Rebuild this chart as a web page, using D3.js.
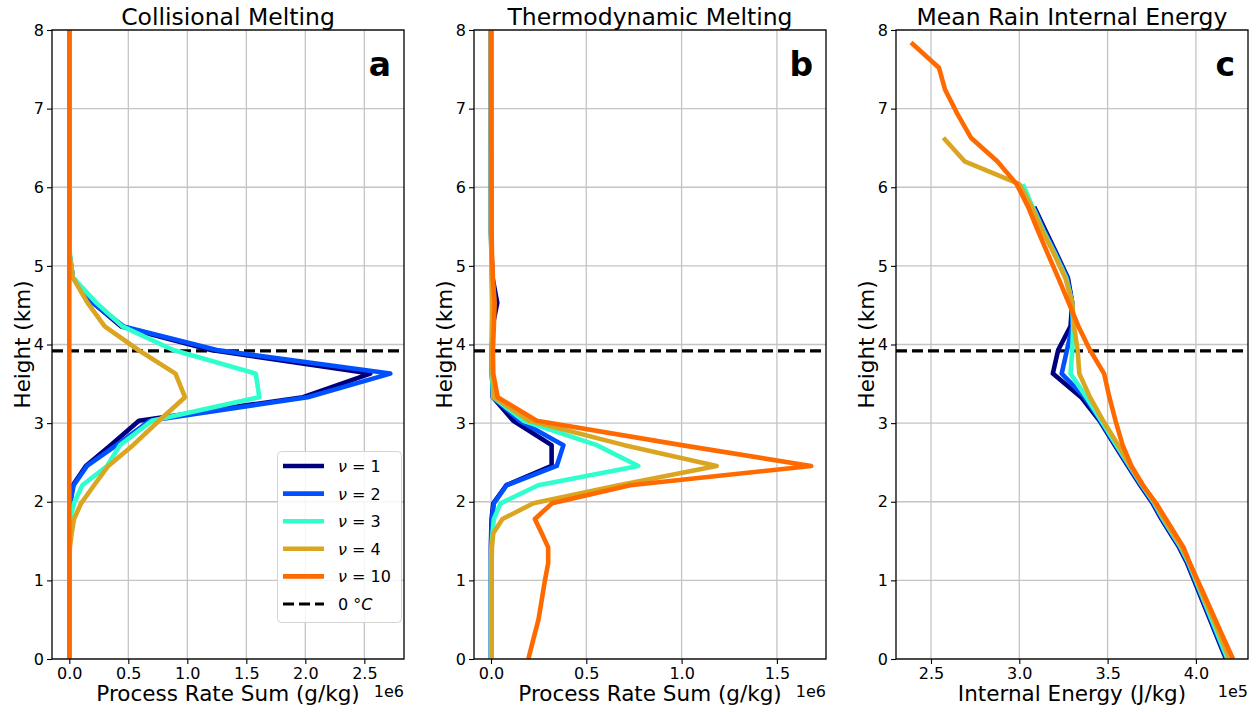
<!DOCTYPE html>
<html>
<head>
<meta charset="utf-8">
<script src="https://cdn.jsdelivr.net/npm/d3@7"></script>
<style>
  body { margin: 0; background: #fff; }
  text { font-family: "DejaVu Sans", sans-serif; fill: #000; }
</style>
</head>
<body>
<script>
// model level heights (km), bottom to top
const levels = [0, 0.25, 0.5, 0.75, 1.0, 1.22, 1.42, 1.6, 1.78, 1.98, 2.21, 2.455, 2.72, 3.03, 3.33,
                3.63, 3.93, 4.23, 4.53, 4.85, 5.16, 5.45, 5.75, 6.04, 6.33, 6.63, 6.93, 7.24, 7.52, 7.84, 8.15];

const nuLabels = ["1", "2", "3", "4", "10"];
const nuColors = ["#00007f", "#0050ff", "#2effcc", "#daa520", "#ff6a00"];

// a: collisional melting (x 1e6)
const collNu1  = [0,0,0,0,0,0,0,0,0.002,0.005,0.03,0.14,0.35,0.59,1.98,2.55,1.2,0.44,0.2,0.03,0,0,0,0,0,0,0,0,0,0,0];
const collNu2  = [0,0,0,0,0,0,0,0,0.003,0.008,0.037,0.15,0.4,0.68,2.02,2.72,1.25,0.46,0.2,0.03,0,0,0,0,0,0,0,0,0,0,0];
const collNu3  = [0,0,0,0,0,0,0,0.002,0.005,0.04,0.11,0.32,0.43,0.7,1.61,1.58,0.88,0.45,0.23,0.03,0.005,0,0,0,0,0,0,0,0,0,0];
const collNu4  = [0,0,0,0,0,0,0.005,0.02,0.04,0.1,0.21,0.33,0.54,0.76,0.98,0.9,0.585,0.3,0.155,0.03,0,0,0,0,0,0,0,0,0,0,0];
const collNu10 = [0,0,0,0,0,0,0,0,0,0,0,0,0,0,0,0,0,0,0,0,0,0,0,0,0,0,0,0,0,0,0];

// b: thermodynamic melting (x 1e6)
const thermNu1  = [0,0,0,0,0,0,0,0.001,0.003,0.012,0.08,0.318,0.318,0.117,0.01,0.005,0.005,0.008,0.033,0.008,0.003,0,0,0,0,0,0,0,0,0,0];
const thermNu2  = [0,0,0,0,0,0,0,0.002,0.006,0.015,0.082,0.345,0.38,0.15,0.01,0.005,0.005,0.007,0.02,0.006,0.002,0,0,0,0,0,0,0,0,0,0];
const thermNu3  = [0,0,0,0,0,0,0.002,0.008,0.015,0.05,0.248,0.773,0.555,0.17,0.012,0.005,0.005,0.005,0.01,0.004,0.002,0,0,0,0,0,0,0,0,0,0];
const thermNu4  = [0.003,0.003,0.003,0.003,0.003,0.003,0.005,0.012,0.06,0.222,0.67,1.184,0.7,0.2,0.015,0.008,0.005,0.005,0.005,0.003,0.002,0,0,0,0,0,0,0,0,0,0];
const thermNu10 = [0.196,0.222,0.249,0.266,0.283,0.3,0.3,0.266,0.23,0.32,0.73,1.68,1.0,0.24,0.035,0.012,0.01,0.015,0.019,0.01,0.005,0.003,0.003,0.002,0.002,0.001,0.001,0.001,0,0,0];

// c: mean rain internal energy (x 1e5)
const energyNu1  = [4.17,4.125,4.08,4.035,3.99,3.95,3.905,3.855,3.805,3.755,3.685,3.615,3.54,3.455,3.35,3.19,3.22,3.29,3.3,3.275,3.21,3.148,3.085,null,null,null,null,null,null,null,null];
const energyNu2  = [4.175,4.13,4.085,4.04,3.995,3.955,3.91,3.86,3.81,3.76,3.69,3.62,3.545,3.46,3.37,3.24,3.27,3.3,3.3,3.27,3.205,3.14,3.08,null,null,null,null,null,null,null,null];
const energyNu3  = [4.18,4.135,4.09,4.045,4.0,3.96,3.915,3.865,3.815,3.765,3.695,3.625,3.55,3.465,3.38,3.29,3.3,3.305,3.3,3.265,3.2,3.135,3.075,3.02,null,null,null,null,null,null,null];
const energyNu4  = [4.19,4.145,4.1,4.05,4.005,3.965,3.92,3.87,3.82,3.77,3.7,3.63,3.56,3.475,3.4,3.34,3.33,3.31,3.3,3.26,3.195,3.13,3.07,3.0,2.69,2.57,null,null,null,null,null];
const energyNu10 = [4.21,4.16,4.11,4.06,4.01,3.965,3.93,3.88,3.83,3.775,3.7,3.635,3.585,3.545,3.51,3.48,3.4,3.335,3.28,3.22,3.16,3.105,3.05,2.985,2.875,2.726,2.65,2.58,2.545,2.387,null];

const freezingLevel = 3.92;
const heightTicks = [0, 1, 2, 3, 4, 5, 6, 7, 8];
const panelTitles = ["Collisional Melting", "Thermodynamic Melting", "Mean Rain Internal Energy"];
const panelLetters = ["a", "b", "c"];
const xLabels = ["Process Rate Sum (g/kg)", "Process Rate Sum (g/kg)", "Internal Energy (J/kg)"];
const xOffsets = ["1e6", "1e6", "1e5"];
const xTicksA = [0, 0.5, 1.0, 1.5, 2.0, 2.5];
const xTicksB = [0, 0.5, 1.0, 1.5];
const xTicksC = [2.5, 3.0, 3.5, 4.0];

function go() {
    const width = 1257, height = 712;
    const top = 30, bottom = 659, axW = 352;

    const svg = d3.select("body").append("svg")
        .attr("width", width)
        .attr("height", height);

    const y = d3.scaleLinear().domain([0, 8]).range([bottom, top]);

    const panels = [
        {left: 52,  domain: [-0.1466, 2.836], ticks: xTicksA, series: [collNu1, collNu2, collNu3, collNu4, collNu10]},
        {left: 474, domain: [-0.0892, 1.7576], ticks: xTicksB, series: [thermNu1, thermNu2, thermNu3, thermNu4, thermNu10]},
        {left: 896, domain: [2.3018, 4.295], ticks: xTicksC, series: [energyNu1, energyNu2, energyNu3, energyNu4, energyNu10]}
    ];

    panels.forEach(function(p, i) {
        const x = d3.scaleLinear().domain(p.domain).range([p.left, p.left + axW]);
        const g = svg.append("g");

        g.append("clipPath").attr("id", "clip" + i)
            .append("rect")
            .attr("x", p.left).attr("y", top)
            .attr("width", axW).attr("height", bottom - top);

        // grid
        g.append("g").selectAll("line").data(p.ticks).enter().append("line")
            .attr("x1", d => x(d)).attr("x2", d => x(d))
            .attr("y1", top).attr("y2", bottom)
            .attr("stroke", "#c4c4c4").attr("stroke-width", 1.3);
        g.append("g").selectAll("line").data(heightTicks).enter().append("line")
            .attr("x1", p.left).attr("x2", p.left + axW)
            .attr("y1", d => y(d)).attr("y2", d => y(d))
            .attr("stroke", "#c4c4c4").attr("stroke-width", 1.3);

        const lineFunction = d3.line()
            .defined(d => d[0] != null)
            .x(d => x(d[0]))
            .y(d => y(d[1]))
            .curve(d3.curveLinear);

        const plot = g.append("g").attr("clip-path", "url(#clip" + i + ")");

        plot.append("line")
            .attr("x1", p.left).attr("x2", p.left + axW)
            .attr("y1", y(freezingLevel)).attr("y2", y(freezingLevel))
            .attr("stroke", "#000").attr("stroke-width", 3.2)
            .attr("stroke-dasharray", "11,5");

        p.series.forEach(function(vals, k) {
            const pts = vals.map((v, j) => [v, levels[j]]);
            plot.append("path")
                .attr("d", lineFunction(pts))
                .attr("fill", "none")
                .attr("stroke", nuColors[k])
                .attr("stroke-width", 4.6)
                .attr("stroke-linejoin", "round")
                .attr("stroke-linecap", "butt");
        });

        // axes
        const xAxis = d3.axisBottom(x).tickValues(p.ticks).tickSize(5).tickPadding(4)
            .tickFormat(d3.format(".1f"));
        const yAxis = d3.axisLeft(y).tickValues(heightTicks).tickSize(5).tickPadding(3)
            .tickFormat(d3.format("d"));

        const gx = g.append("g").attr("transform", "translate(0," + bottom + ")").call(xAxis);
        const gy = g.append("g").attr("transform", "translate(" + p.left + ",0)").call(yAxis);
        [gx, gy].forEach(function(a) {
            a.select(".domain").remove();
            a.selectAll(".tick line").attr("stroke", "#000").attr("stroke-width", 1.1);
            a.selectAll(".tick text").attr("font-size", 16).attr("fill", "#000")
                .attr("font-family", "DejaVu Sans");
        });

        g.append("rect")
            .attr("x", p.left).attr("y", top)
            .attr("width", axW).attr("height", bottom - top)
            .attr("fill", "none").attr("stroke", "#000").attr("stroke-width", 1.3);

        g.append("text")
            .attr("x", p.left + axW / 2).attr("y", 25)
            .attr("text-anchor", "middle").attr("font-size", 23.5)
            .text(panelTitles[i]);

        g.append("text")
            .attr("x", p.left + axW - 13).attr("y", 76)
            .attr("text-anchor", "end").attr("font-size", 33).attr("font-weight", "bold")
            .text(panelLetters[i]);

        g.append("text")
            .attr("x", p.left + axW / 2).attr("y", 701)
            .attr("text-anchor", "middle").attr("font-size", 21.5)
            .text(xLabels[i]);

        g.append("text")
            .attr("x", p.left + axW).attr("y", 697)
            .attr("text-anchor", "end").attr("font-size", 16)
            .text(xOffsets[i]);

        g.append("text")
            .attr("transform", "translate(" + (p.left - 22.5) + "," + ((top + bottom) / 2) + ") rotate(-90)")
            .attr("text-anchor", "middle").attr("font-size", 21.5)
            .text("Height (km)");
    });

    // legend in panel a
    const lg = svg.append("g");
    lg.append("rect")
        .attr("x", 277.5).attr("y", 451.5).attr("width", 124).attr("height", 171)
        .attr("rx", 4).attr("fill", "#fff").attr("fill-opacity", 0.85)
        .attr("stroke", "#d4d4d4").attr("stroke-width", 1);

    const rowY = [466, 493.6, 521.2, 548.8, 576.4, 604];
    nuLabels.forEach(function(lab, k) {
        lg.append("line")
            .attr("x1", 283).attr("x2", 324).attr("y1", rowY[k]).attr("y2", rowY[k])
            .attr("stroke", nuColors[k]).attr("stroke-width", 4.6);
        const t = lg.append("text").attr("x", 338).attr("y", rowY[k] + 6).attr("font-size", 16);
        t.append("tspan").attr("font-style", "italic").text("ν");
        t.append("tspan").text(" = " + lab);
    });
    lg.append("line")
        .attr("x1", 283).attr("x2", 324).attr("y1", rowY[5]).attr("y2", rowY[5])
        .attr("stroke", "#000").attr("stroke-width", 3.2).attr("stroke-dasharray", "11,5");
    const t0 = lg.append("text").attr("x", 338).attr("y", rowY[5] + 6).attr("font-size", 16);
    t0.append("tspan").text("0 °");
    t0.append("tspan").attr("font-style", "italic").text("C");
}

window.onload = function() {
    go();
};
</script>
</body>
</html>
